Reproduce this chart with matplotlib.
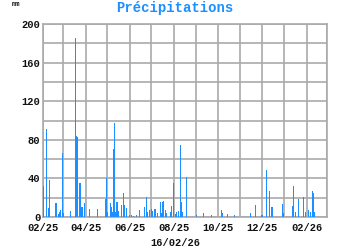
import matplotlib
matplotlib.use("Agg")
import matplotlib.pyplot as plt
import numpy as np
import pandas as pd

dates = [
    "2025-02-02", "2025-02-06", "2025-02-08", "2025-02-10", "2025-02-18", "2025-02-19",
    "2025-02-22", "2025-02-24", "2025-02-25", "2025-02-28", "2025-03-01", "2025-03-11",
    "2025-03-18", "2025-03-19", "2025-03-20", "2025-03-21", "2025-03-23", "2025-03-24",
    "2025-03-25", "2025-03-27", "2025-03-28", "2025-03-30", "2025-04-06", "2025-04-18",
    "2025-04-28", "2025-04-29", "2025-04-30", "2025-05-01", "2025-05-05", "2025-05-07",
    "2025-05-08", "2025-05-10", "2025-05-11", "2025-05-12", "2025-05-14", "2025-05-15",
    "2025-05-16", "2025-05-21", "2025-05-23", "2025-05-25", "2025-05-28", "2025-06-01",
    "2025-06-03", "2025-06-06", "2025-06-10", "2025-06-14", "2025-06-21", "2025-06-22",
    "2025-06-24", "2025-06-25", "2025-06-28", "2025-07-01", "2025-07-03", "2025-07-05",
    "2025-07-07", "2025-07-09", "2025-07-13", "2025-07-15", "2025-07-17", "2025-07-18",
    "2025-07-20", "2025-07-22", "2025-07-27", "2025-07-29", "2025-08-01", "2025-08-03",
    "2025-08-05", "2025-08-07", "2025-08-10", "2025-08-11", "2025-08-13", "2025-08-18",
    "2025-08-19", "2025-09-02", "2025-09-11", "2025-09-22", "2025-10-06", "2025-10-07",
    "2025-10-14", "2025-10-24", "2025-11-15", "2025-11-22", "2025-12-01", "2025-12-07",
    "2025-12-12", "2025-12-14", "2025-12-15", "2025-12-29", "2025-12-31", "2026-01-13",
    "2026-01-14", "2026-01-16", "2026-01-20", "2026-01-27", "2026-01-28", "2026-01-30",
    "2026-02-04", "2026-02-06", "2026-02-09", "2026-02-10", "2026-02-11",
]
rain_mm = [
    32, 91, 9, 38, 14, 14,
    3, 5, 7, 66, 4, 6,
    185, 84, 83, 5, 14, 35,
    35, 10, 10, 15, 8, 8,
    19, 12, 40, 5, 14, 10,
    5, 70, 97, 5, 16, 16,
    6, 12, 25, 12, 9, 2,
    2, 1, 2, 7, 8, 10,
    21, 5, 7, 8, 6, 8,
    8, 4, 16, 4, 16, 17,
    7, 4, 5, 11, 35, 3,
    5, 6, 75, 16, 5, 41,
    12, 2, 4, 2, 7, 4,
    3, 2, 4, 12, 2, 49,
    27, 10, 10, 13, 4, 11,
    32, 5, 19, 12, 21, 5,
    7, 5, 27, 25, 5,
]
x_tick_labels = ["02/25", "04/25", "06/25", "08/25", "10/25", "12/25", "02/26"]
y_ticks = [0, 40, 80, 120, 160, 200]
title = "Précipitations"
unit = "mm"
footer = "16/02/26"

blue = "#1e8fff"
grid_col = "#aaaaaa"
mono = ["Liberation Mono", "DejaVu Sans Mono"]

fig = plt.figure(figsize=(3.5, 2.5), dpi=100)
ax = fig.add_axes([43/350, 33/250, 284/350, 193/250])

d = pd.to_datetime(dates)
ax.bar(d, rain_mm, width=1.5, color=blue, linewidth=0, zorder=3)

start = pd.Timestamp("2025-02-01")
end = pd.Timestamp("2026-03-01")
ax.set_xlim(start, end)
ax.set_ylim(0, 200)

major = pd.date_range("2025-02-01", "2026-02-01", freq="2MS")
minor = pd.date_range("2025-02-01", "2026-03-01", freq="MS")
ax.set_xticks(major)
ax.set_xticklabels(x_tick_labels)
ax.set_xticks(minor, minor=True)
ax.set_yticks(y_ticks)
ax.set_yticks(np.arange(0, 201, 20), minor=True)

ax.grid(True, which="both", color=grid_col, linewidth=1.2, zorder=0)
ax.set_axisbelow(True)
for s in ax.spines.values():
    s.set_color(grid_col)
    s.set_linewidth(1.2)
ax.tick_params(axis="x", which="both", length=0, pad=4)
ax.tick_params(axis="y", which="both", length=0, pad=2)
for lab in ax.get_xticklabels() + ax.get_yticklabels():
    lab.set_fontfamily(mono)
    lab.set_fontweight("bold")
    lab.set_fontsize(7.5)
    lab.set_color("#111111")

fig.text(175/350, 1 - 8/250, title, ha="center", va="center", color=blue,
         fontsize=10, fontweight="bold", family=mono)
fig.text(12/350, 1 - 5/250, unit, ha="left", va="center", color="#111111",
         fontsize=5, fontweight="bold", family=mono)
fig.text(175/350, 1 - 243/250, footer, ha="center", va="center", color="#111111",
         fontsize=7.5, fontweight="bold", family=mono)

fig.savefig("out.png", dpi=100, facecolor="white")
